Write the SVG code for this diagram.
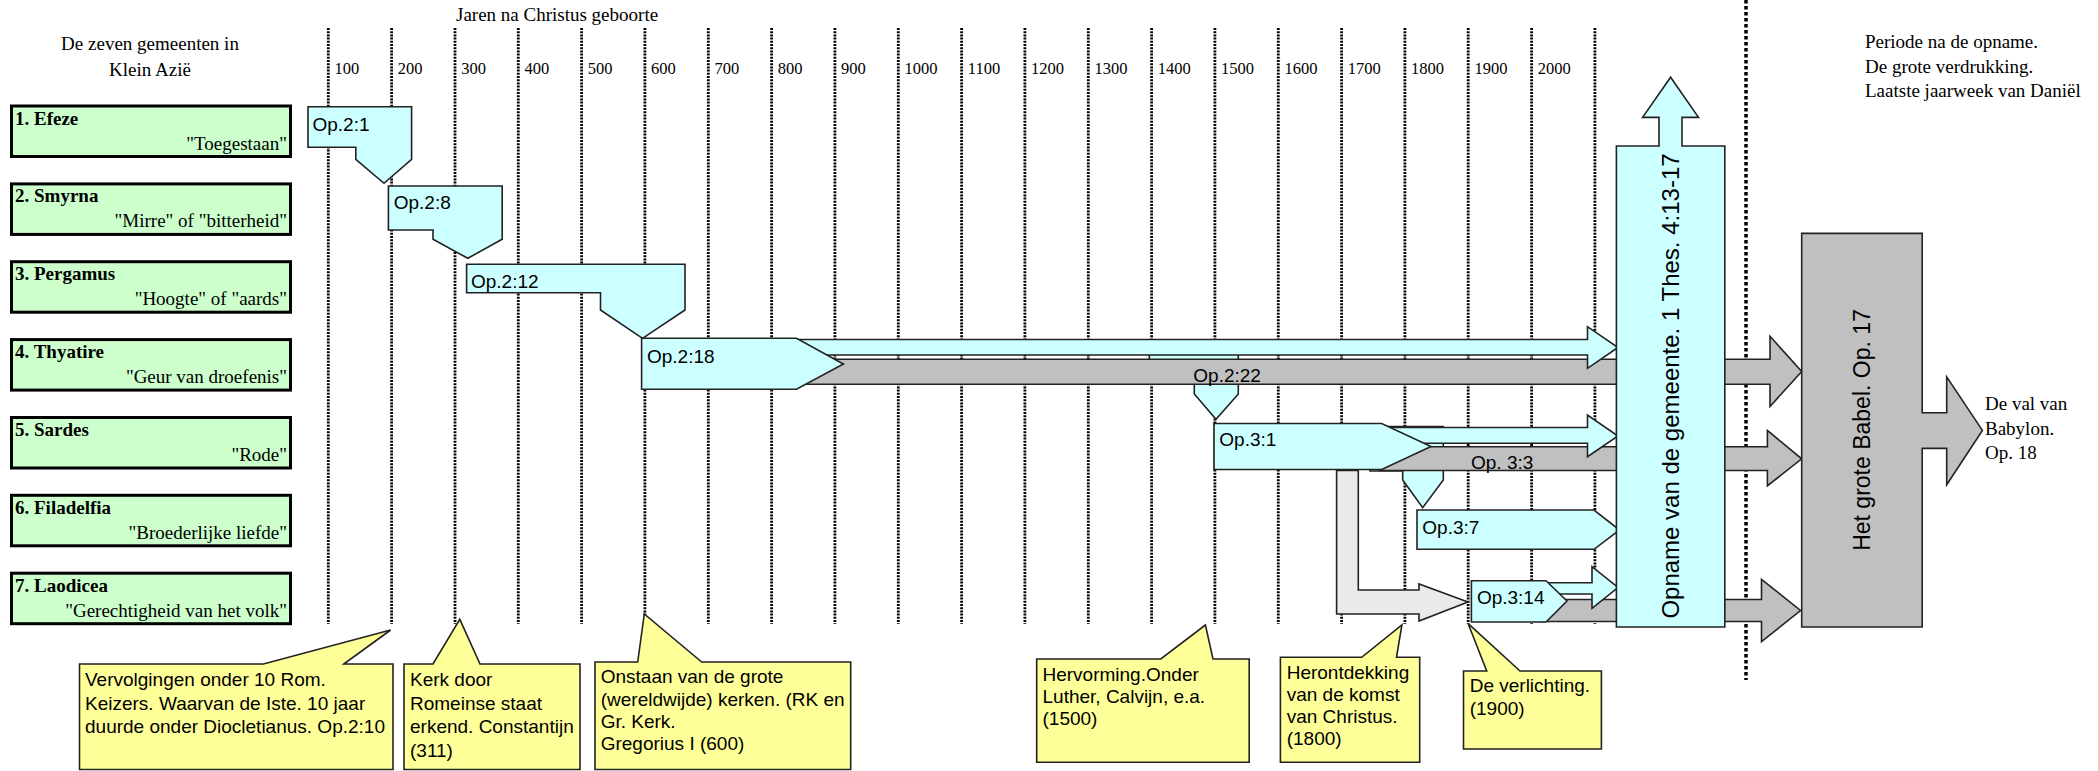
<svg xmlns="http://www.w3.org/2000/svg" width="2098" height="771" viewBox="0 0 2098 771">
<style>
.serif{font-family:"Liberation Serif","Times New Roman",serif;fill:#000}
.sans{font-family:"Liberation Sans",Arial,sans-serif;fill:#000}
.t19{font-size:19px}
.yr{font-size:16.5px}
.bold{font-weight:bold}
.grid{stroke:#000;stroke-width:2.8;stroke-dasharray:2 1.2;fill:none}
.bigdot{stroke:#000;stroke-width:3.5;stroke-dasharray:3.5 2.5;fill:none}
.green{fill:#CCFFCC;stroke:#000;stroke-width:3}
.cyan{fill:#CCFFFF;stroke:#222;stroke-width:1.6;stroke-linejoin:miter}
.gray{fill:#C0C0C0;stroke:#222;stroke-width:1.6}
.lgray{fill:#EAEAEA;stroke:#222;stroke-width:1.6}
.yellow{fill:#FFFF99;stroke:#222;stroke-width:1.6}
</style>

<g id="grid">
<line class="grid" x1="328.3" y1="28" x2="328.3" y2="624"/>
<line class="grid" x1="391.6" y1="28" x2="391.6" y2="624"/>
<line class="grid" x1="455" y1="28" x2="455" y2="624"/>
<line class="grid" x1="518.3" y1="28" x2="518.3" y2="624"/>
<line class="grid" x1="581.6" y1="28" x2="581.6" y2="624"/>
<line class="grid" x1="644.9" y1="28" x2="644.9" y2="624"/>
<line class="grid" x1="708.3" y1="28" x2="708.3" y2="624"/>
<line class="grid" x1="771.6" y1="28" x2="771.6" y2="624"/>
<line class="grid" x1="834.9" y1="28" x2="834.9" y2="624"/>
<line class="grid" x1="898.3" y1="28" x2="898.3" y2="624"/>
<line class="grid" x1="961.6" y1="28" x2="961.6" y2="624"/>
<line class="grid" x1="1024.9" y1="28" x2="1024.9" y2="624"/>
<line class="grid" x1="1088.3" y1="28" x2="1088.3" y2="624"/>
<line class="grid" x1="1151.6" y1="28" x2="1151.6" y2="624"/>
<line class="grid" x1="1214.9" y1="28" x2="1214.9" y2="624"/>
<line class="grid" x1="1278.3" y1="28" x2="1278.3" y2="624"/>
<line class="grid" x1="1341.6" y1="28" x2="1341.6" y2="624"/>
<line class="grid" x1="1404.9" y1="28" x2="1404.9" y2="624"/>
<line class="grid" x1="1468.2" y1="28" x2="1468.2" y2="624"/>
<line class="grid" x1="1531.6" y1="28" x2="1531.6" y2="624"/>
<line class="grid" x1="1594.9" y1="28" x2="1594.9" y2="624"/>
<line class="bigdot" x1="1746" y1="0" x2="1746" y2="680"/>
</g>

<g id="header">
<text class="serif t19" x="456" y="21">Jaren na Christus geboorte</text>
<text class="serif t19" x="150" y="50" text-anchor="middle">De zeven gemeenten in</text>
<text class="serif t19" x="150" y="76" text-anchor="middle">Klein Azië</text>
<text class="serif t19" x="1865" y="48">Periode na de opname.</text>
<text class="serif t19" x="1865" y="72.5">De grote verdrukking.</text>
<text class="serif t19" x="1865" y="97">Laatste jaarweek van Daniël</text>
<g class="serif yr">
<text x="334.5" y="74">100</text>
<text x="397.8" y="74">200</text>
<text x="461.2" y="74">300</text>
<text x="524.5" y="74">400</text>
<text x="587.8" y="74">500</text>
<text x="651.1" y="74">600</text>
<text x="714.5" y="74">700</text>
<text x="777.8" y="74">800</text>
<text x="841.1" y="74">900</text>
<text x="904.5" y="74">1000</text>
<text x="967.8" y="74">1100</text>
<text x="1031.1" y="74">1200</text>
<text x="1094.5" y="74">1300</text>
<text x="1157.8" y="74">1400</text>
<text x="1221.1" y="74">1500</text>
<text x="1284.5" y="74">1600</text>
<text x="1347.8" y="74">1700</text>
<text x="1411.1" y="74">1800</text>
<text x="1474.4" y="74">1900</text>
<text x="1537.8" y="74">2000</text>
</g>
</g>

<g id="church1">
<rect class="green" x="11.5" y="106" width="279" height="50.5"/>
<text class="serif t19 bold" x="15" y="124.5">1. Efeze</text>
<text class="serif t19" x="287" y="149.5" text-anchor="end">"Toegestaan"</text>
</g>
<g id="church2">
<rect class="green" x="11.5" y="183.9" width="279" height="50.5"/>
<text class="serif t19 bold" x="15" y="202.4">2. Smyrna</text>
<text class="serif t19" x="287" y="227.4" text-anchor="end">"Mirre" of "bitterheid"</text>
</g>
<g id="church3">
<rect class="green" x="11.5" y="261.7" width="279" height="50.5"/>
<text class="serif t19 bold" x="15" y="280.2">3. Pergamus</text>
<text class="serif t19" x="287" y="305.2" text-anchor="end">"Hoogte" of "aards"</text>
</g>
<g id="church4">
<rect class="green" x="11.5" y="339.6" width="279" height="50.5"/>
<text class="serif t19 bold" x="15" y="358.1">4. Thyatire</text>
<text class="serif t19" x="287" y="383.1" text-anchor="end">"Geur van droefenis"</text>
</g>
<g id="church5">
<rect class="green" x="11.5" y="417.5" width="279" height="50.5"/>
<text class="serif t19 bold" x="15" y="436">5. Sardes</text>
<text class="serif t19" x="287" y="461" text-anchor="end">"Rode"</text>
</g>
<g id="church6">
<rect class="green" x="11.5" y="495.3" width="279" height="50.5"/>
<text class="serif t19 bold" x="15" y="513.8">6. Filadelfia</text>
<text class="serif t19" x="287" y="538.8" text-anchor="end">"Broederlijke liefde"</text>
</g>
<g id="church7">
<rect class="green" x="11.5" y="573.2" width="279" height="50.5"/>
<text class="serif t19 bold" x="15" y="591.7">7. Laodicea</text>
<text class="serif t19" x="287" y="616.7" text-anchor="end">"Gerechtigheid van het volk"</text>
</g>

<g id="op2-1">
<path class="cyan" d="M308,106.7 L411.6,106.7 L411.6,159.3 L384,183.3 L355.8,159.3 L355.8,147.3 L308,147.3 Z"/>
<text class="sans t19" x="312.5" y="131">Op.2:1</text>
</g>
<g id="op2-8">
<path class="cyan" d="M388.4,186 L502.2,186 L502.2,239.3 L467.8,258.3 L433,239.3 L433,230 L388.4,230 Z"/>
<text class="sans t19" x="393.7" y="209">Op.2:8</text>
</g>
<g id="op2-12">
<path class="cyan" d="M466.6,264.3 L685,264.3 L685,310 L642.5,338.3 L600.5,310 L600.5,292.7 L466.6,292.7 Z"/>
<text class="sans t19" x="471" y="288">Op.2:12</text>
</g>

<g id="connectors">
<path class="cyan" d="M1149.3,352 L1238.3,352 L1238.3,394 L1216,419.3 L1194.3,394 L1194.3,384.3 L1149.3,384.3 Z"/>
<path class="cyan" d="M1370,426.5 L1443.3,426.5 L1443.3,480 L1422.7,507.7 L1402.7,480 L1402.7,471 L1370,471 Z"/>
<path class="gray" d="M790,359.3 L1770,359.3 L1770,336.3 L1801.7,371.5 L1770,406.5 L1770,384.3 L790,384.3 Z"/>
<path class="gray" d="M1380,446.7 L1767.4,446.7 L1767.4,430.5 L1801.7,458.8 L1767.4,485.8 L1767.4,470.5 L1380,470.5 Z"/>
<path class="gray" d="M1540,599.5 L1761.5,599.5 L1761.5,579.3 L1800.5,610.5 L1761.5,641.7 L1761.5,621.5 L1540,621.5 Z"/>
<path class="cyan" d="M790,339.5 L1587.5,339.5 L1587.5,326.7 L1618,347.5 L1587.5,368.3 L1587.5,355 L790,355 Z"/>
<path class="cyan" d="M1375,427.5 L1587.5,427.5 L1587.5,415 L1618,436 L1587.5,456.7 L1587.5,443.3 L1375,443.3 Z"/>
<path class="cyan" d="M1540,582.7 L1592,582.7 L1592,566.7 L1618,587.5 L1592,608.3 L1592,594 L1540,594 Z"/>
<path class="lgray" d="M1336.6,470.5 L1358.3,470.5 L1358.3,590 L1419,590 L1419,584 L1468,602 L1419,621 L1419,614 L1336.6,614 Z"/>
<text class="sans t19" x="1193.3" y="381.5">Op.2:22</text>
<text class="sans t19" x="1471" y="468.5">Op. 3:3</text>
</g>

<g id="op2-18">
<path class="cyan" d="M641.6,338.3 L796.5,338.3 L843.4,364 L796.5,389.3 L641.6,389.3 Z"/>
<text class="sans t19" x="647" y="362.5">Op.2:18</text>
</g>
<g id="op3-1">
<path class="cyan" d="M1214,423.5 L1381.7,423.5 L1431,446.5 L1381.7,469.5 L1214,469.5 Z"/>
<text class="sans t19" x="1219.3" y="446">Op.3:1</text>
</g>
<g id="op3-7">
<path class="cyan" d="M1417,510 L1594,510 L1619.6,530 L1594,549.3 L1417,549.3 Z"/>
<text class="sans t19" x="1422.3" y="533.5">Op.3:7</text>
</g>
<g id="op3-14">
<path class="cyan" d="M1471.4,580.7 L1546,580.7 L1567,601 L1546,622 L1471.4,622 Z"/>
<text class="sans t19" x="1476.9" y="603.5">Op.3:14</text>
</g>

<g id="opname">
<path class="cyan" d="M1616.4,146 L1659,146 L1659,117.4 L1642.6,117.4 L1670.6,77.2 L1698.5,117.4 L1682,117.4 L1682,146 L1724.8,146 L1724.8,627 L1616.4,627 Z"/>
<text class="sans" font-size="24" x="0" y="0" text-anchor="middle" transform="translate(1679,386) rotate(-90)">Opname van de gemeente. 1 Thes. 4:13-17</text>
</g>

<g id="babel">
<path class="gray" d="M1801.7,233.4 L1922.2,233.4 L1922.2,412.8 L1946.7,412.8 L1946.7,376.9 L1982.4,430.4 L1946.7,484.8 L1946.7,448.4 L1922.2,448.4 L1922.2,627 L1801.7,627 Z"/>
<text class="sans" font-size="23" x="0" y="0" text-anchor="middle" transform="translate(1870,430) rotate(-90)">Het grote Babel. Op. 17</text>
<text class="serif t19" x="1985" y="410">De val van</text>
<text class="serif t19" x="1985" y="434.5">Babylon.</text>
<text class="serif t19" x="1985" y="459">Op. 18</text>
</g>

<g id="callout1">
<path class="yellow" d="M79.5,664 L263.4,664 L390.6,630 L343.8,664 L393,664 L393,769.5 L79.5,769.5 Z"/>
<text class="sans t19" x="85" y="686">Vervolgingen onder 10 Rom.</text>
<text class="sans t19" x="85" y="709.5">Keizers. Waarvan de Iste. 10 jaar</text>
<text class="sans t19" x="85" y="733">duurde onder Diocletianus. Op.2:10</text>
</g>
<g id="callout2">
<path class="yellow" d="M404,664 L433,664 L459.8,619.3 L480,664 L580,664 L580,769.5 L404,769.5 Z"/>
<text class="sans t19" x="410" y="686">Kerk door</text>
<text class="sans t19" x="410" y="709.5">Romeinse staat</text>
<text class="sans t19" x="410" y="733">erkend. Constantijn</text>
<text class="sans t19" x="410" y="756.5">(311)</text>
</g>
<g id="callout3">
<path class="yellow" d="M595,662 L637.7,662 L644.3,614 L701.7,662 L850.7,662 L850.7,769.5 L595,769.5 Z"/>
<text class="sans t19" x="600.7" y="683.3">Onstaan van de grote</text>
<text class="sans t19" x="600.7" y="706">(wereldwijde) kerken. (RK en</text>
<text class="sans t19" x="600.7" y="728">Gr. Kerk.</text>
<text class="sans t19" x="600.7" y="750">Gregorius I (600)</text>
</g>
<g id="callout4">
<path class="yellow" d="M1036.7,659 L1160.8,659 L1205.4,625 L1213,659 L1249.2,659 L1249.2,762.3 L1036.7,762.3 Z"/>
<text class="sans t19" x="1042.5" y="680.7">Hervorming.Onder</text>
<text class="sans t19" x="1042.5" y="702.9">Luther, Calvijn, e.a.</text>
<text class="sans t19" x="1042.5" y="725.1">(1500)</text>
</g>
<g id="callout5">
<path class="yellow" d="M1280.4,657.3 L1361.7,657.3 L1401.9,625 L1396.5,657.3 L1419.7,657.3 L1419.7,762.3 L1280.4,762.3 Z"/>
<text class="sans t19" x="1286.7" y="679.3">Herontdekking</text>
<text class="sans t19" x="1286.7" y="701.2">van de komst</text>
<text class="sans t19" x="1286.7" y="723.1">van Christus.</text>
<text class="sans t19" x="1286.7" y="745">(1800)</text>
</g>
<g id="callout6">
<path class="yellow" d="M1463.5,671 L1486.7,671 L1468,623.3 L1520,671 L1601.4,671 L1601.4,749 L1463.5,749 Z"/>
<text class="sans t19" x="1469.7" y="691.7">De verlichting.</text>
<text class="sans t19" x="1469.7" y="715">(1900)</text>
</g>
</svg>
